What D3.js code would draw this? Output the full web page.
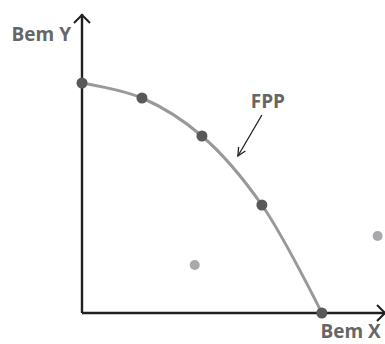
<!DOCTYPE html>
<html>
<head>
<meta charset="utf-8">
<script src="https://cdn.jsdelivr.net/npm/d3@7"></script>
<style>
  body { margin: 0; background: #fff; }
  svg { display: block; }
</style>
</head>
<body>
<div id="chart-area"></div>
<script>
// curva de possibilidades de produção (FPP)
var bemX = [0, 1, 2, 3, 4];
var bemY = [23, 21.5, 17.7, 10.8, 0];
// pontos fora / dentro da curva
var extraX = [1.88, 4.93];
var extraY = [4.8, 7.7];
var axisLabels = ["Bem X", "Bem Y"];
var curveLabel = "FPP";

var width = 385;
var height = 344;

var svg = d3.select("#chart-area").append("svg")
	.attr("width", width)
	.attr("height", height);

var x = d3.scaleLinear()
	.domain([0, 5.07])
	.range([82, 386]);

var y = d3.scaleLinear()
	.domain([0, 29.9])
	.range([313, 14]);

var axisColor = "#231f20";

// eixos
svg.append("line")
	.attr("x1", x(0)).attr("y1", y(0))
	.attr("x2", x(0)).attr("y2", y(29.9))
	.attr("stroke", axisColor)
	.attr("stroke-width", 2.4);
svg.append("line")
	.attr("x1", x(0)).attr("y1", y(0))
	.attr("x2", x(5.07)).attr("y2", y(0))
	.attr("stroke", axisColor)
	.attr("stroke-width", 2.4);

// pontas das setas
svg.append("path")
	.attr("d", "M" + (x(0) - 8) + "," + (y(29.9) + 9) + "L" + x(0) + "," + (y(29.9) + 1) + "L" + (x(0) + 8) + "," + (y(29.9) + 9))
	.attr("fill", "none")
	.attr("stroke", axisColor)
	.attr("stroke-width", 2);
svg.append("path")
	.attr("d", "M" + (x(5.07) - 9) + "," + (y(0) - 8) + "L" + (x(5.07) - 1) + "," + y(0) + "L" + (x(5.07) - 9) + "," + (y(0) + 8))
	.attr("fill", "none")
	.attr("stroke", axisColor)
	.attr("stroke-width", 2);

// curva
var line = d3.line()
	.x((d, i) => x(bemX[i]))
	.y((d, i) => y(bemY[i]))
	.curve(d3.curveCatmullRom.alpha(0.5));

svg.append("path")
	.datum(bemX)
	.attr("d", line)
	.attr("fill", "none")
	.attr("stroke", "#999999")
	.attr("stroke-width", 3);

svg.selectAll("circle.fpp")
	.data(bemX)
	.enter()
	.append("circle")
	.attr("class", "fpp")
	.attr("cx", (d, i) => x(bemX[i]))
	.attr("cy", (d, i) => y(bemY[i]))
	.attr("r", 5.5)
	.attr("fill", "#58595b");

svg.selectAll("circle.extra")
	.data(extraX)
	.enter()
	.append("circle")
	.attr("class", "extra")
	.attr("cx", (d, i) => x(extraX[i]))
	.attr("cy", (d, i) => y(extraY[i]))
	.attr("r", 5)
	.attr("fill", "#a7a9ac");

// rótulos
var labelFont = "'Open Sans', 'Noto Sans', sans-serif";
svg.append("text")
	.attr("x", x(0) - 11)
	.attr("y", y(27.2))
	.attr("text-anchor", "end")
	.attr("font-family", labelFont)
	.attr("font-weight", "bold")
	.attr("font-size", "19px")
	.attr("fill", "#666666")
	.text(axisLabels[1]);

svg.append("text")
	.attr("x", x(4.48))
	.attr("y", y(-2.5))
	.attr("text-anchor", "middle")
	.attr("font-family", labelFont)
	.attr("font-weight", "bold")
	.attr("font-size", "19px")
	.attr("fill", "#666666")
	.text(axisLabels[0]);

svg.append("text")
	.attr("x", x(3.1))
	.attr("y", y(20.5))
	.attr("text-anchor", "middle")
	.attr("font-family", labelFont)
	.attr("font-weight", "bold")
	.attr("font-size", "19px")
	.attr("fill", "#666666")
	.text(curveLabel);

// seta do rótulo FPP
var ax1 = x(3.0), ay1 = y(19.8), ax2 = x(2.6), ay2 = y(15.7);
svg.append("line")
	.attr("x1", ax1).attr("y1", ay1)
	.attr("x2", ax2).attr("y2", ay2)
	.attr("stroke", axisColor)
	.attr("stroke-width", 1.3);
var ang = Math.atan2(ay2 - ay1, ax2 - ax1);
var hl = 9, spread = 0.45;
svg.append("path")
	.attr("d", "M" + (ax2 - hl * Math.cos(ang - spread)) + "," + (ay2 - hl * Math.sin(ang - spread)) +
		"L" + ax2 + "," + ay2 +
		"L" + (ax2 - hl * Math.cos(ang + spread)) + "," + (ay2 - hl * Math.sin(ang + spread)))
	.attr("fill", "none")
	.attr("stroke", axisColor)
	.attr("stroke-width", 1.3);
</script>
</body>
</html>
